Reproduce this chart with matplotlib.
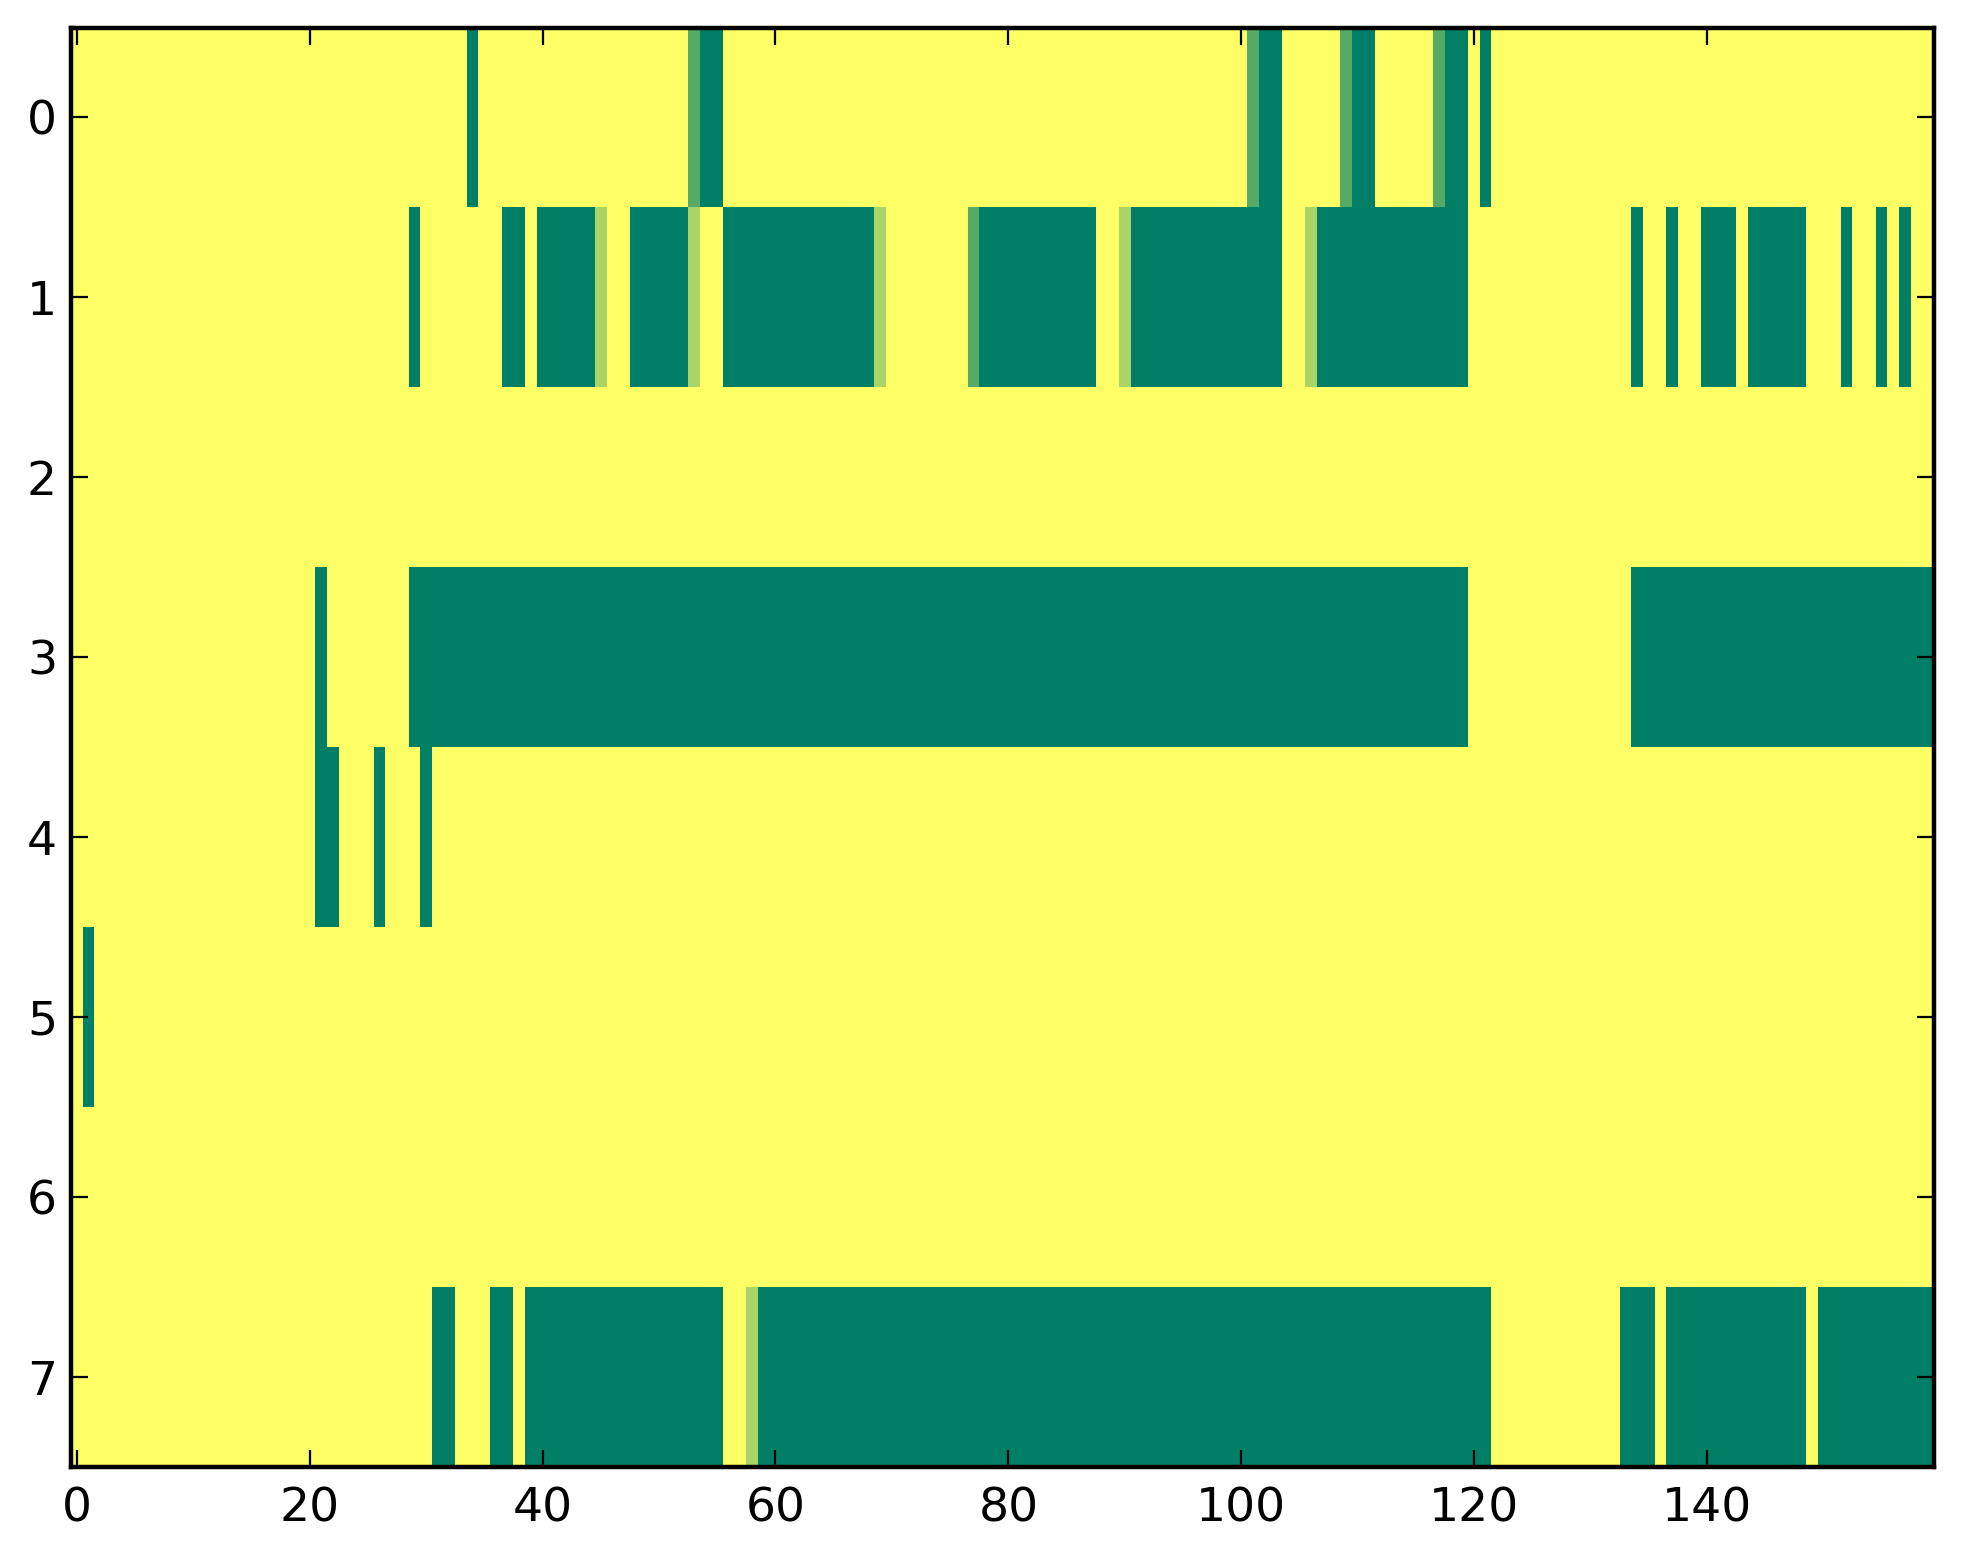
import numpy as np
import matplotlib
matplotlib.use("Agg")
import matplotlib.pyplot as plt

n_rows = 8
n_cols = 160

# runs per row: (first column, last column, value)
row0_runs = [(34, 34, 1), (53, 53, 2/3), (54, 55, 1), (101, 101, 2/3), (102, 103, 1),
             (109, 109, 2/3), (110, 111, 1), (117, 117, 2/3), (118, 119, 1), (121, 121, 1)]
row1_runs = [(29, 29, 1), (37, 38, 1), (40, 44, 1), (45, 45, 1/3), (48, 52, 1), (53, 53, 1/3),
             (56, 68, 1), (69, 69, 1/3), (77, 77, 2/3), (78, 87, 1), (90, 90, 1/3),
             (91, 103, 1), (106, 106, 1/3), (107, 119, 1), (134, 134, 1), (137, 137, 1),
             (140, 142, 1), (144, 148, 1), (152, 152, 1), (155, 155, 1), (157, 157, 1)]
row2_runs = []
row3_runs = [(21, 21, 1), (29, 119, 1), (134, 159, 1)]
row4_runs = [(21, 22, 1), (26, 26, 1), (30, 30, 1)]
row5_runs = [(1, 1, 1)]
row6_runs = []
row7_runs = [(31, 32, 1), (36, 37, 1), (39, 55, 1), (58, 58, 1/3), (59, 121, 1),
             (133, 135, 1), (137, 148, 1), (150, 159, 1)]

all_runs = [row0_runs, row1_runs, row2_runs, row3_runs,
            row4_runs, row5_runs, row6_runs, row7_runs]

data = np.zeros((n_rows, n_cols))
for r, runs in enumerate(all_runs):
    for a, b, v in runs:
        data[r, a:b + 1] = v

fig = plt.figure(figsize=(1963 / 200, 1564 / 200), dpi=200)
ax = fig.add_axes([71 / 1963, 1 - 1467 / 1564, (1934 - 71) / 1963, (1467 - 27.5) / 1564])
ax.imshow(data, cmap="summer_r", vmin=0, vmax=1, aspect="auto", interpolation="nearest")

ax.set_xticks([0, 20, 40, 60, 80, 100, 120, 140])
ax.set_yticks(range(8))
ax.tick_params(direction="in", top=True, right=True, length=6, width=0.8,
               labelsize=17)
ax.tick_params(axis="x", pad=7)
ax.tick_params(axis="y", pad=5)
for s in ax.spines.values():
    s.set_linewidth(1.6)

fig.savefig("out.png", dpi=200)
